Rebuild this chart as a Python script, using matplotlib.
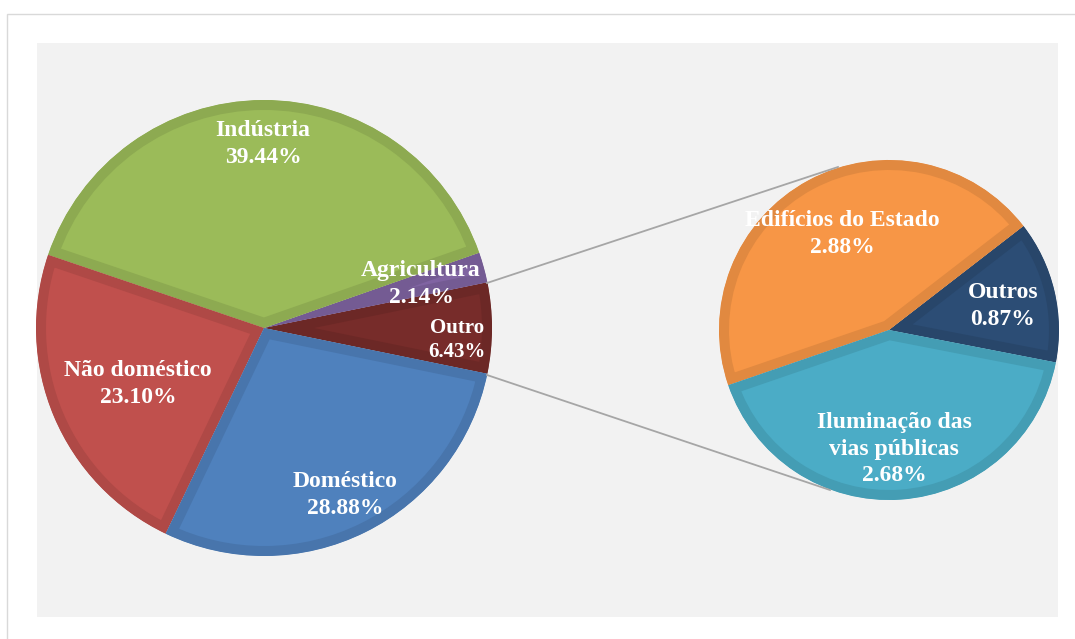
import matplotlib.pyplot as plt
from matplotlib.patches import Rectangle
from matplotlib.colors import to_rgb

# main pie (counter-clockwise, starting with the "Outro" slice centred on the right)
main_labels = ["Outro", "Agricultura", "Indústria", "Não doméstico", "Doméstico"]
main_values = [6.43, 2.14, 39.44, 23.10, 28.88]
main_colors = ["#772C2A", "#8064A2", "#9BBB59", "#C0504D", "#4F81BD"]

# secondary pie (breakdown of "Outro")
sub_labels = ["Outros", "Edifícios do Estado", "Iluminação das\nvias públicas"]
sub_values = [0.87, 2.88, 2.68]
sub_colors = ["#2C4D75", "#F79646", "#4BACC6"]

W, H = 1075, 639


def py(y):
    # pixel row (top-down) -> data y (bottom-up)
    return H - y


def shade(c, f=0.91):
    r, g, b = to_rgb(c)
    return (r * f, g * f, b * f)


def bevel_pie(ax, values, colors, center, radius, start):
    wedges, _ = ax.pie(values, colors=colors, center=center, radius=radius,
                       startangle=start, counterclock=True, frame=True)
    for w, c in zip(wedges, colors):
        w.set_edgecolor(shade(c))
        w.set_linewidth(14.4)
        w.set_joinstyle("miter")
        # keep only the inner half of the stroke -> bevel-like band
        w.set_clip_path(w)
        w.set_clip_on(True)
    return wedges


fig = plt.figure(figsize=(W / 100, H / 100), dpi=100)
ax = fig.add_axes([0, 0, 1, 1])

# outer frame and grey plot area
ax.add_patch(Rectangle((7, -20), W + 20, py(14) + 20, facecolor="white",
                       edgecolor="#D9D9D9", linewidth=1.0, zorder=0))
ax.add_patch(Rectangle((37, py(617)), 1058 - 37, 617 - 43, facecolor="#F2F2F2",
                       edgecolor="none", zorder=0.5))

left_c, left_r = (264, py(328)), 228
right_c, right_r = (889, py(330)), 170

start_main = -main_values[0] / sum(main_values) * 360 / 2
bevel_pie(ax, main_values, main_colors, left_c, left_r, start_main)
bevel_pie(ax, sub_values, sub_colors, right_c, right_r, -11)

# connector lines
ax.plot([487, 838], [py(283), py(167)], color="#A6A6A6", lw=1.3, zorder=3)
ax.plot([487, 830], [py(375), py(490)], color="#A6A6A6", lw=1.3, zorder=3)

font = dict(family="Liberation Serif", weight="bold", color="white",
            ha="center", va="center", zorder=5)

main_pos = {
    "Indústria": (263, 144, 17, 1.36),
    "Agricultura": (421, 284, 17, 1.36),
    "Outro": (457, 340, 15, 1.3),
    "Não doméstico": (138, 384, 17, 1.36),
    "Doméstico": (345, 495, 17, 1.36),
}
for lab, val in zip(main_labels, main_values):
    x, y, fs, ls = main_pos[lab]
    ax.text(x, py(y), f"{lab}\n{val:.2f}%", fontsize=fs, linespacing=ls, **font)

sub_pos = {
    "Outros": (1003, 306),
    "Edifícios do Estado": (842, 234),
    "Iluminação das\nvias públicas": (894, 449),
}
for lab, val in zip(sub_labels, sub_values):
    x, y = sub_pos[lab]
    ax.text(x, py(y), f"{lab}\n{val:.2f}%", fontsize=17, linespacing=1.36, **font)

ax.set_xlim(0, W)
ax.set_ylim(0, H)
ax.set_aspect("auto")
ax.axis("off")

fig.savefig("out.png", dpi=100, facecolor="white")
